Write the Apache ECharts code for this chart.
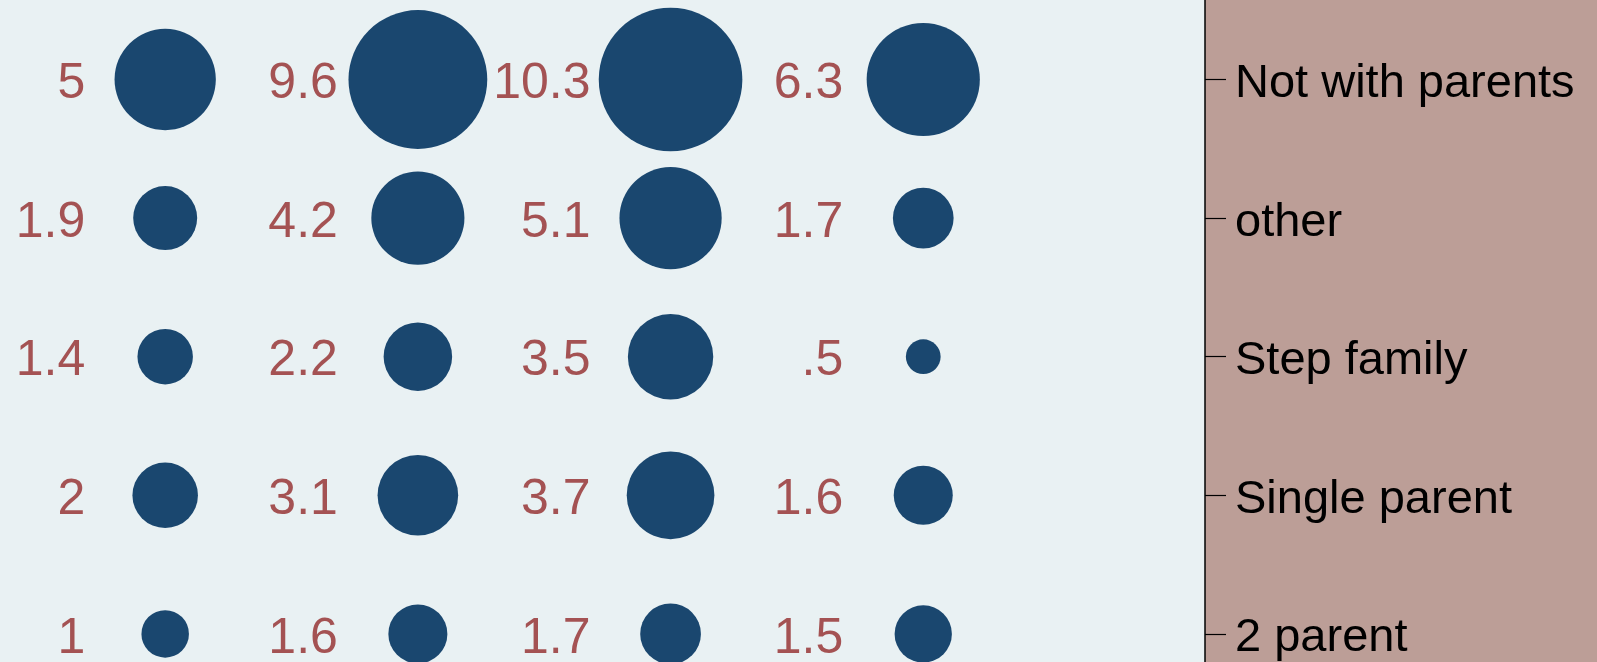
<!DOCTYPE html>
<html>
<head>
<meta charset="utf-8">
<script src="https://cdn.jsdelivr.net/npm/echarts@6/dist/echarts.min.js"></script>
<style>
html,body{margin:0;padding:0;background:#bc9e97;}
#chart{width:1597px;height:662px;}
</style>
</head>
<body>
<div id="chart"></div>
<script>
// Row categories (bottom to top on the y axis)
var rowLabels = ['2 parent', 'Single parent', 'Step family', 'other', 'Not with parents'];
var rowTicks = [1, 2, 3, 4, 5];
// Values per row, four columns each
var row2parent = [1, 1.6, 1.7, 1.5];
var rowSingle = [2, 3.1, 3.7, 1.6];
var rowStep = [1.4, 2.2, 3.5, 0.5];
var rowOther = [1.9, 4.2, 5.1, 1.7];
var rowNotWith = [5, 9.6, 10.3, 6.3];
var columns = [1, 2, 3, 4];

var rows = [row2parent, rowSingle, rowStep, rowOther, rowNotWith];
var data = [];
rows.forEach(function (vals, ri) {
  vals.forEach(function (v, ci) {
    data.push([columns[ci], rowTicks[ri], v]);
  });
});

function fmt(v) {
  var s = String(v);
  return v < 1 ? s.replace(/^0/, '') : s;
}

var chart = echarts.init(document.getElementById('chart'));
chart.setOption({
  backgroundColor: '#bc9e97',
  animation: false,
  grid: {
    left: 0,
    right: 392,
    top: 0,
    bottom: 0,
    show: true,
    backgroundColor: '#e9f1f3',
    borderWidth: 0
  },
  xAxis: {
    type: 'value',
    min: 0.3463,
    max: 5.115,
    show: false
  },
  yAxis: {
    type: 'value',
    position: 'right',
    min: 0.7973,
    max: 5.5736,
    axisLine: { show: true, lineStyle: { color: '#000', width: 1.5 } },
    axisTick: { show: true, length: 21, customValues: rowTicks, lineStyle: { color: '#000', width: 1.2 } },
    splitLine: { show: false },
    axisLabel: {
      margin: 30,
      color: '#000',
      fontSize: 47,
      verticalAlign: 'top',
      lineHeight: 9,
      fontFamily: 'Liberation Sans, Arial, sans-serif',
      customValues: rowTicks,
      formatter: function (v) { return rowLabels[Math.round(v) - 1] || ''; }
    }
  },
  series: [
    {
      type: 'scatter',
      data: data,
      symbol: 'circle',
      symbolSize: function (d) { return 43.5 * Math.sqrt(d[2]) + 4; },
      itemStyle: { color: '#1a476f', opacity: 1 },
      silent: true,
      z: 2
    },
    {
      type: 'scatter',
      data: data,
      symbol: 'circle',
      symbolSize: 1,
      itemStyle: { color: 'rgba(0,0,0,0)' },
      silent: true,
      z: 3,
      label: {
        show: true,
        position: 'left',
        distance: 79.5,
        offset: [0, 5],
        color: '#922a2a',
        fontSize: 50,
        fontFamily: 'Liberation Sans, Arial, sans-serif',
        formatter: function (p) { return fmt(p.data[2]); }
      }
    }
  ]
});
</script>
</body>
</html>
